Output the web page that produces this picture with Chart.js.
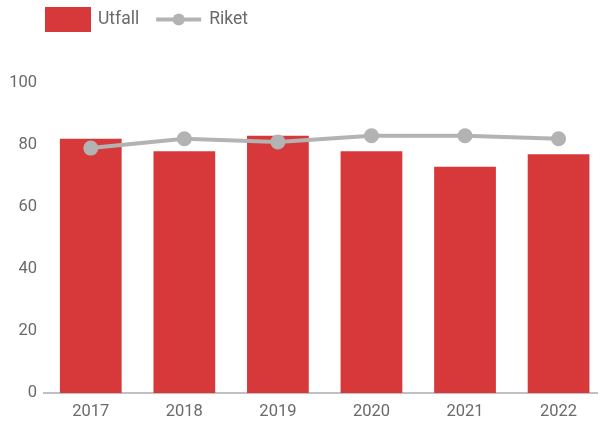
<!DOCTYPE html>
<html>
<head>
<meta charset="utf-8">
<script src="https://cdn.jsdelivr.net/npm/chart.js@4"></script>
<style>
  html, body { margin: 0; padding: 0; background: #fff; overflow: hidden; }
  #wrap { position: relative; width: 605px; height: 421px; }
  #c { display: block; }
</style>
</head>
<body>
<div id="wrap"><canvas id="c" width="605" height="421"></canvas></div>
<script>
const categories = ["2017", "2018", "2019", "2020", "2021", "2022"];
const utfall = [82, 78, 83, 78, 73, 77];
const riket = [79, 82, 81, 83, 83, 82];
const yTicks = [0, 20, 40, 60, 80, 100];

const RED = "#d7393a";
const GREY = "#b3b3b3";
const TEXT = "#6a6a6a";
const FONT = "Roboto, 'Noto Sans', sans-serif";

const legendPlugin = {
  id: "customLegend",
  afterDraw(chart) {
    const ctx = chart.ctx;
    const bar = chart.data.datasets.find(d => d.type === "bar");
    const line = chart.data.datasets.find(d => d.type === "line");
    ctx.save();
    ctx.font = "17.5px " + FONT;
    ctx.textBaseline = "middle";
    const y = 19.5;
    let x = 45;
    ctx.fillStyle = bar.backgroundColor;
    ctx.fillRect(x, 7, 46, 25);
    x += 46 + 7;
    ctx.fillStyle = TEXT;
    ctx.fillText(bar.label, x, y);
    x += ctx.measureText(bar.label).width + 17;
    ctx.strokeStyle = line.borderColor;
    ctx.lineWidth = 4;
    ctx.beginPath();
    ctx.moveTo(x, y);
    ctx.lineTo(x + 45, y);
    ctx.stroke();
    ctx.fillStyle = line.borderColor;
    ctx.beginPath();
    ctx.arc(x + 22.5, y, 6, 0, Math.PI * 2);
    ctx.fill();
    x += 45 + 8;
    ctx.fillStyle = TEXT;
    ctx.fillText(line.label, x, y);
    ctx.restore();
  }
};

// the original chart is cropped on the right: the last category slot runs past the edge
const xMin = -0.5, xMax = 5.416;

new Chart(document.getElementById("c"), {
  data: {
    datasets: [
      {
        type: "line",
        label: "Riket",
        data: riket.map((v, i) => ({ x: i, y: v })),
        borderColor: GREY,
        backgroundColor: GREY,
        borderWidth: 4,
        pointRadius: 7.5,
        pointHoverRadius: 7.5,
        pointBackgroundColor: GREY,
        pointBorderWidth: 0,
        tension: 0,
        order: 0
      },
      {
        type: "bar",
        label: "Utfall",
        data: utfall.map((v, i) => ({ x: i, y: v })),
        backgroundColor: RED,
        borderWidth: 0,
        categoryPercentage: 1,
        barPercentage: 0.66,
        order: 1
      }
    ]
  },
  plugins: [legendPlugin],
  options: {
    responsive: false,
    animation: false,
    devicePixelRatio: 1,
    layout: { padding: { top: 83, right: 0, left: 0, bottom: 0 } },
    plugins: { legend: { display: false }, tooltip: { enabled: false } },
    scales: {
      x: {
        type: "linear",
        min: xMin,
        max: xMax,
        offset: false,
        afterBuildTicks(s) { s.ticks = categories.map((c, i) => ({ value: i })); },
        grid: { display: false, drawTicks: false },
        border: { display: true, color: "#c0c0c0", width: 2 },
        ticks: {
          color: TEXT, font: { family: FONT, size: 16.5 }, padding: 9,
          maxRotation: 0, autoSkip: false,
          callback: (v) => categories[v]
        },
        afterFit(s) { s.height = 28; s.paddingLeft = 0; s.paddingRight = 0; }
      },
      y: {
        min: 0,
        max: 100,
        afterBuildTicks(s) { s.ticks = yTicks.map(v => ({ value: v })); },
        grid: { display: false, drawTicks: false },
        border: { display: false },
        ticks: { color: TEXT, font: { family: FONT, size: 16.5 }, padding: 7 },
        afterFit(s) { s.width = 44; }
      }
    }
  }
});
</script>
</body>
</html>
